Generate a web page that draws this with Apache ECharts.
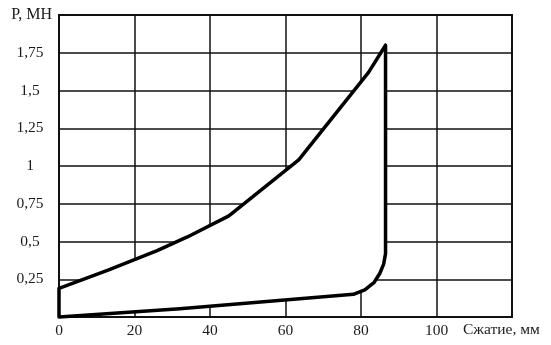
<!DOCTYPE html>
<html><head><meta charset="utf-8">
<script src="https://cdn.jsdelivr.net/npm/echarts@6/dist/echarts.min.js"></script>
<style>html,body{margin:0;padding:0;background:#fff}#c{width:551px;height:345px}</style>
</head><body><div id="c"></div>
<script>
// Loop: loading branch (upper), then unloading branch (lower)
const loopX = [0, 13, 26, 34, 45, 63.5, 82, 86.5, 86.5, 86, 85, 83.5, 81, 78, 32, 0];
const loopP = [0.19, 0.31, 0.44, 0.53, 0.67, 1.04, 1.62, 1.80, 0.42, 0.35, 0.29, 0.23, 0.18, 0.15, 0.055, 0];
const xTicks = [0, 20, 40, 60, 80, 100, 120];
const yTicks = [0, 0.25, 0.5, 0.75, 1, 1.25, 1.5, 1.75, 2];
const xName = 'Сжатие, мм';
const yName = 'Р, МН';

const pts = loopX.map((x, i) => [x, loopP[i]]);
const font = 'Liberation Serif';
const chart = echarts.init(document.getElementById('c'));
chart.setOption({
  animation: false,
  grid: { left: 59, right: 39, top: 15, bottom: 28, show: true, borderColor: '#111', borderWidth: 2 },
  xAxis: {
    type: 'value', min: 0, max: 120, interval: 20,
    name: xName, nameLocation: 'end', nameGap: -49,
    nameTextStyle: { fontFamily: font, fontSize: 15.5, color: '#1a1a1a', align: 'left', verticalAlign: 'top', padding: [5, 0, 0, 0] },
    axisLine: { show: true, lineStyle: { color: '#111', width: 2 } },
    axisTick: { show: false },
    axisLabel: { fontFamily: font, fontSize: 15.5, color: '#1a1a1a', margin: 6,
      formatter: v => (v === 120 ? '' : String(v)) },
    splitLine: { show: true, lineStyle: { color: '#111', width: 1.5 } }
  },
  yAxis: {
    type: 'value', min: 0, max: 2, interval: 0.25,
    name: yName, nameLocation: 'end', nameGap: 0,
    nameTextStyle: { fontFamily: font, fontSize: 16, color: '#1a1a1a', align: 'right', verticalAlign: 'middle', padding: [0, 7, 0, 0] },
    axisLine: { show: true, lineStyle: { color: '#111', width: 2 } },
    axisTick: { show: false },
    axisLabel: { fontFamily: font, fontSize: 15.5, color: '#1a1a1a', margin: 29, align: 'center',
      formatter: v => (v === 0 || v === 2 ? '' : String(v).replace('.', ',')) },
    splitLine: { show: true, lineStyle: { color: '#111', width: 1.5 } }
  },
  series: [{
    type: 'custom',
    coordinateSystem: 'cartesian2d',
    data: [0],
    renderItem: function (params, api) {
      const points = pts.map(p => api.coord(p));
      return {
        type: 'polygon',
        shape: { points: points },
        style: { fill: '#fff', stroke: '#000', lineWidth: 3.5, lineJoin: 'round' }
      };
    },
    z: 5
  }]
});
</script></body></html>
